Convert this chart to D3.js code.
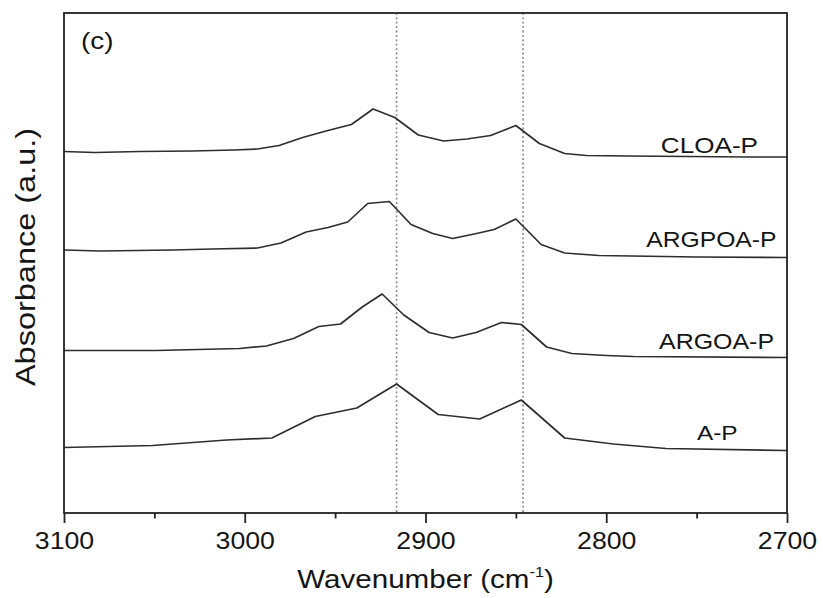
<!DOCTYPE html>
<html>
<head>
<meta charset="utf-8">
<script src="https://cdn.jsdelivr.net/npm/d3@7"></script>
<style>
  html, body { margin: 0; padding: 0; background: #fff; }
  svg { display: block; }
</style>
</head>
<body>
<svg id="chart" width="823" height="598"></svg>
<script>
// ---------- data ----------
const seriesNames = ["CLOA-P", "ARGPOA-P", "ARGOA-P", "A-P"];

const cloaWn  = [3100, 3083, 3058, 3029, 3006, 2993, 2981, 2968, 2954, 2941, 2929, 2917, 2904, 2890, 2877, 2864, 2850, 2837, 2823, 2811, 2788, 2722, 2700];
const cloaAbs = [72.3, 72.1, 72.3, 72.4, 72.6, 72.8, 73.5, 75.1, 76.5, 77.7, 80.8, 79.1, 75.6, 74.4, 74.8, 75.5, 77.5, 73.9, 71.9, 71.5, 71.4, 71.2, 71.2];

const argpoaWn  = [3100, 3080, 3040, 3018, 2993, 2980, 2966, 2954, 2943, 2932, 2920, 2908, 2896, 2885, 2873, 2862, 2850, 2836, 2823, 2804, 2750, 2700];
const argpoaAbs = [52.6, 52.4, 52.6, 52.8, 53.0, 54.0, 56.2, 57.1, 58.2, 61.9, 62.3, 57.7, 55.9, 54.9, 55.8, 56.7, 58.8, 53.7, 52.0, 51.5, 51.2, 51.1];

const argoaWn  = [3100, 3049, 3003, 2988, 2973, 2959, 2947, 2935, 2924, 2912, 2898, 2885, 2872, 2858, 2847, 2833, 2819, 2800, 2785, 2700];
const argoaAbs = [32.5, 32.5, 32.9, 33.4, 34.9, 37.3, 37.8, 41.2, 43.8, 39.6, 36.1, 35.0, 36.1, 38.1, 37.7, 33.2, 31.9, 31.5, 31.3, 31.1];

const apWn  = [3100, 3051, 3010, 2985, 2961, 2938, 2916, 2893, 2870, 2847, 2823, 2796, 2767, 2700];
const apAbs = [13.1, 13.5, 14.6, 15.0, 19.3, 21.0, 25.8, 19.7, 18.8, 22.6, 15.0, 13.8, 12.9, 12.5];

const markerWn   = [2916, 2846];
const majorTicks = [3100, 3000, 2900, 2800, 2700];
const minorTicks = [3050, 2950, 2850, 2750];
const panelLabel = "(c)";
const xTitle = "Wavenumber (cm";
const xTitleSup = "-1";
const yTitle = "Absorbance (a.u.)";

// ---------- layout ----------
const svg = d3.select("#chart");
const mLeft = 64, mRight = 787, mTop = 13, mBottom = 513;
const FONT = "'Liberation Sans', Arial, Helvetica, sans-serif";
const SX = 1.16; // horizontal stretch of the original lettering

const x = d3.scaleLinear().domain([3100, 2700]).range([mLeft, mRight]);
const y = d3.scaleLinear().domain([0, 100]).range([mBottom, mTop]);

const series = [
  { name: seriesNames[0], wn: cloaWn,   abs: cloaAbs,   lab: { x: 758,   y: 153.3, size: 22.5 } },
  { name: seriesNames[1], wn: argpoaWn, abs: argpoaAbs, lab: { x: 776.5, y: 246.7, size: 21.3 } },
  { name: seriesNames[2], wn: argoaWn,  abs: argoaAbs,  lab: { x: 774,   y: 348.5, size: 21.5 } },
  { name: seriesNames[3], wn: apWn,     abs: apAbs,     lab: { x: 737.5, y: 439.5, size: 21 } }
];

function addText(parent, str, tx, ty, size, anchor, rot) {
  return parent.append("text")
    .attr("transform", `translate(${tx},${ty})` + (rot ? ` rotate(${rot})` : "") + ` scale(${SX},1)`)
    .attr("text-anchor", anchor)
    .attr("font-family", FONT)
    .attr("font-size", size)
    .attr("fill", "#151515")
    .text(str);
}

// dotted reference lines
svg.append("g").selectAll("line").data(markerWn).join("line")
  .attr("x1", d => x(d)).attr("x2", d => x(d))
  .attr("y1", mTop).attr("y2", mBottom)
  .attr("stroke", "#808080")
  .attr("stroke-width", 1.6)
  .attr("stroke-dasharray", "1.8,2.6");

// spectra
const line = d3.line().x(d => x(d[0])).y(d => y(d[1]));
svg.append("g").selectAll("path").data(series).join("path")
  .attr("d", s => line(s.wn.map((w, i) => [w, s.abs[i]])))
  .attr("fill", "none")
  .attr("stroke", "#2e2e2e")
  .attr("stroke-width", 1.7)
  .attr("stroke-linejoin", "round");

// series labels
series.forEach(s => addText(svg, s.name, s.lab.x, s.lab.y, s.lab.size, "end"));

// bottom axis: major ticks with labels
const xAxis = d3.axisBottom(x).tickValues(majorTicks).tickSize(10).tickPadding(6).tickFormat(d3.format("d"));
const gx = svg.append("g").attr("transform", `translate(0,${mBottom})`).call(xAxis);
gx.select(".domain").remove();
gx.selectAll(".tick line").attr("stroke", "#222").attr("stroke-width", 1.8);
gx.selectAll(".tick text").remove();
gx.selectAll(".tick").each(function (d) {
  addText(d3.select(this), d3.format("d")(d), 0, 35.5, 23, "middle");
});

// minor ticks
const xMinor = d3.axisBottom(x).tickValues(minorTicks).tickSize(5.5).tickFormat("");
const gm = svg.append("g").attr("transform", `translate(0,${mBottom})`).call(xMinor);
gm.select(".domain").remove();
gm.selectAll(".tick line").attr("stroke", "#222").attr("stroke-width", 1.8);

// frame
svg.append("rect")
  .attr("x", mLeft).attr("y", mTop)
  .attr("width", mRight - mLeft).attr("height", mBottom - mTop)
  .attr("fill", "none").attr("stroke", "#222").attr("stroke-width", 1.8);

// panel label
addText(svg, panelLabel, 81, 49, 24, "start");

// x title with superscript
const xt = addText(svg, xTitle, (mLeft + mRight) / 2, 588.3, 25.5, "middle");
xt.append("tspan").attr("font-size", 14).attr("dy", -11).text(xTitleSup);
xt.append("tspan").attr("dy", 11).text(")");

// y title
addText(svg, yTitle, 35, 257, 28, "middle", -90);
</script>
</body>
</html>
